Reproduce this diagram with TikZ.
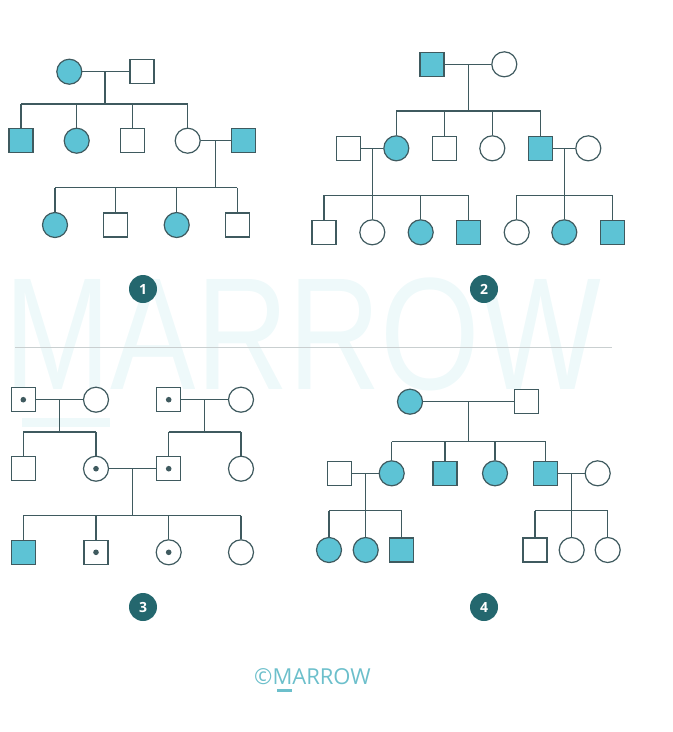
\documentclass[tikz,border=0pt]{standalone}
\usepackage{fontspec}
\usepackage{tikz}
\newfontfamily\logofont{Open Sans}
\newfontfamily\wmfont{Liberation Sans}
\definecolor{aqua}{HTML}{5DC3D5}
\definecolor{slate}{HTML}{3F5A5F}
\definecolor{deepteal}{HTML}{24676E}
\definecolor{logoteal}{HTML}{6CBFCB}
\definecolor{wmark}{HTML}{EEF9FA}
\definecolor{rulegray}{HTML}{C9CFD0}

\begin{document}
\begin{tikzpicture}[x=1pt, y=-1pt]
  \tikzset{
    sq/.style={rectangle,draw=slate,fill=white,minimum size=24pt,inner sep=0pt,line width=1.2pt},
    ci/.style={circle,draw=slate,fill=white,minimum size=25pt,inner sep=0pt,line width=1.2pt},
    sqa/.style={sq,fill=aqua},
    cia/.style={ci,fill=aqua},
    sqc/.style={sq,path picture={\fill[slate] (path picture bounding box.center) circle (2.8pt);}},
    cic/.style={ci,path picture={\fill[slate] (path picture bounding box.center) circle (2.8pt);}},
    lin/.style={draw=slate,line width=1.2pt},
    badge/.style={circle,fill=deepteal,text=white,minimum size=28pt,inner sep=0pt,font=\logofont\bfseries\fontsize{14}{14}\selectfont}
  }
  \useasboundingbox (0,0) rectangle (673,732);
  \node[anchor=base west,inner sep=0pt,xscale=0.8,text=wmark,font=\wmfont\fontsize{160}{160}\selectfont] (wm) at (4,389) {MARROW};
  \fill[wmark] (22,418) rectangle (110,427);
  \draw[rulegray,line width=0.8pt] (15,347) -- (612,347);

  \node[cia] (a1) at (69.3,71.7) {};
  \node[sq] (a2) at (142,71.7) {};
  \node[sqa] (a3) at (21,140.7) {};
  \node[cia] (a4) at (76.7,140.7) {};
  \node[sq] (a5) at (132.3,140.7) {};
  \node[ci] (a6) at (187.7,140.7) {};
  \node[sqa] (a7) at (243.3,140.7) {};
  \node[cia] (a8) at (55,225) {};
  \node[sq] (a9) at (115.7,225) {};
  \node[cia] (a10) at (176.7,225) {};
  \node[sq] (a11) at (237.3,225) {};
  \coordinate (am1) at (105,71.7);
  \coordinate (as1) at (105,104);
  \coordinate (am2) at (215.7,140.7);
  \coordinate (as2) at (215.7,187.7);
  \draw[lin] (a1) -- (a2);
  \draw[lin] (am1) -- (as1);
  \draw[lin] (a3 |- as1) -- (a6 |- as1);
  \foreach \n in {a3,a4,a5,a6} \draw[lin] (\n |- as1) -- (\n);
  \draw[lin] (a6) -- (a7);
  \draw[lin] (am2) -- (as2);
  \draw[lin] (a8 |- as2) -- (a11 |- as2);
  \foreach \n in {a8,a9,a10,a11} \draw[lin] (\n |- as2) -- (\n);

  \node[sqa] (b1) at (432,64.3) {};
  \node[ci] (b2) at (504.3,64.3) {};
  \node[sq] (b3) at (348.3,148.3) {};
  \node[cia] (b4) at (396.3,148.3) {};
  \node[sq] (b5) at (444.3,148.3) {};
  \node[ci] (b6) at (492.3,148.3) {};
  \node[sqa] (b7) at (540.7,148.3) {};
  \node[ci] (b8) at (588.3,148.3) {};
  \node[sq] (b9) at (324,232.3) {};
  \node[ci] (b10) at (372.3,232.3) {};
  \node[cia] (b11) at (420.7,232.3) {};
  \node[sqa] (b12) at (468.7,232.3) {};
  \node[ci] (b13) at (516.7,232.3) {};
  \node[cia] (b14) at (564.3,232.3) {};
  \node[sqa] (b15) at (612.7,232.3) {};
  \coordinate (bm1) at (468.3,64.3);
  \coordinate (bs1) at (468.3,111);
  \coordinate (bm2) at (372.3,148.3);
  \coordinate (bs2) at (372.3,195.3);
  \coordinate (bm3) at (564.3,148.3);
  \coordinate (bs3) at (564.3,195.3);
  \draw[lin] (b1) -- (b2);
  \draw[lin] (bm1) -- (bs1);
  \draw[lin] (b4 |- bs1) -- (b7 |- bs1);
  \foreach \n in {b4,b5,b6,b7} \draw[lin] (\n |- bs1) -- (\n);
  \draw[lin] (b3) -- (b4);
  \draw[lin] (bm2) -- (bs2);
  \draw[lin] (b9 |- bs2) -- (b12 |- bs2);
  \foreach \n in {b9,b10,b11,b12} \draw[lin] (\n |- bs2) -- (\n);
  \draw[lin] (b7) -- (b8);
  \draw[lin] (bm3) -- (bs3);
  \draw[lin] (b13 |- bs3) -- (b15 |- bs3);
  \foreach \n in {b13,b14,b15} \draw[lin] (\n |- bs3) -- (\n);

  \node[sqc] (c1) at (23.3,399.7) {};
  \node[ci] (c2) at (96,399.7) {};
  \node[sqc] (c5) at (168.7,399.7) {};
  \node[ci] (c6) at (241,399.7) {};
  \node[sq] (c3) at (23.3,468.7) {};
  \node[cic] (c4) at (96,468.7) {};
  \node[sqc] (c7) at (168.7,468.7) {};
  \node[ci] (c8) at (241,468.7) {};
  \node[sqa] (c9) at (23.3,552.3) {};
  \node[sqc] (c10) at (96,552.3) {};
  \node[cic] (c11) at (168.7,552.3) {};
  \node[ci] (c12) at (241,552.3) {};
  \coordinate (cm1) at (59.3,399.7);
  \coordinate (cs1) at (59.3,432);
  \coordinate (cm2) at (204.7,399.7);
  \coordinate (cs2) at (204.7,432);
  \coordinate (cm3) at (132.3,468.7);
  \coordinate (cs3) at (132.3,515.7);
  \draw[lin] (c1) -- (c2);
  \draw[lin] (cm1) -- (cs1);
  \draw[lin] (c3 |- cs1) -- (c4 |- cs1);
  \foreach \n in {c3,c4} \draw[lin] (\n |- cs1) -- (\n);
  \draw[lin] (c5) -- (c6);
  \draw[lin] (cm2) -- (cs2);
  \draw[lin] (c7 |- cs2) -- (c8 |- cs2);
  \foreach \n in {c7,c8} \draw[lin] (\n |- cs2) -- (\n);
  \draw[lin] (c4) -- (c7);
  \draw[lin] (cm3) -- (cs3);
  \draw[lin] (c9 |- cs3) -- (c12 |- cs3);
  \foreach \n in {c9,c10,c11,c12} \draw[lin] (\n |- cs3) -- (\n);

  \node[cia] (d1) at (410,401.7) {};
  \node[sq] (d2) at (526.7,401.7) {};
  \node[sq] (d3) at (339.3,473.3) {};
  \node[cia] (d4) at (391.7,473.3) {};
  \node[sqa] (d5) at (445,473.3) {};
  \node[cia] (d6) at (495,473.3) {};
  \node[sqa] (d7) at (545.7,473.3) {};
  \node[ci] (d8) at (597.7,473.3) {};
  \node[cia] (d9) at (329,550) {};
  \node[cia] (d10) at (365.7,550) {};
  \node[sqa] (d11) at (401.7,550) {};
  \node[sq] (d12) at (535,550) {};
  \node[ci] (d13) at (571.7,550) {};
  \node[ci] (d14) at (607.7,550) {};
  \coordinate (dm1) at (468.3,401.7);
  \coordinate (ds1) at (468.3,441.7);
  \coordinate (dm2) at (365.7,473.3);
  \coordinate (ds2) at (365.7,510.7);
  \coordinate (dm3) at (571.7,473.3);
  \coordinate (ds3) at (571.7,510.7);
  \draw[lin] (d1) -- (d2);
  \draw[lin] (dm1) -- (ds1);
  \draw[lin] (d4 |- ds1) -- (d7 |- ds1);
  \foreach \n in {d4,d5,d6,d7} \draw[lin] (\n |- ds1) -- (\n);
  \draw[lin] (d3) -- (d4);
  \draw[lin] (dm2) -- (ds2);
  \draw[lin] (d9 |- ds2) -- (d11 |- ds2);
  \foreach \n in {d9,d10,d11} \draw[lin] (\n |- ds2) -- (\n);
  \draw[lin] (d7) -- (d8);
  \draw[lin] (dm3) -- (ds3);
  \draw[lin] (d12 |- ds3) -- (d14 |- ds3);
  \foreach \n in {d12,d13,d14} \draw[lin] (\n |- ds3) -- (\n);

  \node[badge] (n1) at (143,289) {1};
  \node[badge] (n2) at (484,289) {2};
  \node[badge] (n3) at (143,607) {3};
  \node[badge] (n4) at (484,607) {4};

  \node[anchor=base west,inner sep=0pt,text=logoteal,font=\logofont\fontsize{22}{22}\selectfont] (logo) at (254,684) {©MARROW};
  \fill[logoteal] (277,689) rectangle (292,691.5);
\end{tikzpicture}
\end{document}
